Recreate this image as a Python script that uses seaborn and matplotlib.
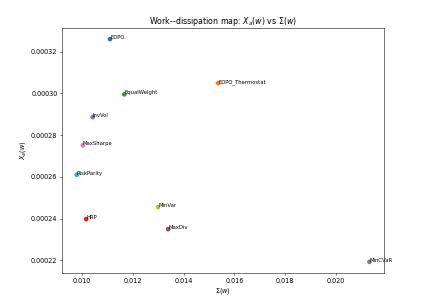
import pandas as pd
import matplotlib
matplotlib.use("Agg")
import matplotlib.pyplot as plt
import seaborn as sns

strategies = ["EDPO", "EDPO_Thermostat", "EqualWeight", "HRP", "InvVol",
              "MaxDiv", "MaxSharpe", "MinCVaR", "MinVar", "RiskParity"]
sigma = [0.01111, 0.01536, 0.01167, 0.01017, 0.01043,
         0.01340, 0.01004, 0.02131, 0.01300, 0.00980]
x_a = [0.0003261, 0.0003050, 0.0002996, 0.0002397, 0.0002887,
       0.0002349, 0.0002751, 0.0002192, 0.0002455, 0.0002610]

DPI = 47.2


def work_dissipation_map():
    df = pd.DataFrame({"strategy": strategies, "sigma": sigma, "x_a": x_a})

    fig = plt.figure(figsize=(434 / DPI, 304 / DPI), dpi=DPI)
    ax = fig.add_axes([0.143, 0.102, 0.742, 0.806])
    sns.scatterplot(data=df, x="sigma", y="x_a", hue="strategy",
                    hue_order=strategies, palette="tab10",
                    s=50, edgecolor="none", legend=False, ax=ax)

    for _, row in df.iterrows():
        ax.text(row["sigma"], row["x_a"], row["strategy"], fontsize=8)

    ax.set_title(r"Work--dissipation map: $X_a(w)$ vs $\Sigma(w)$")
    ax.set_xlabel(r"$\Sigma(w)$")
    ax.set_ylabel(r"$X_a(w)$")

    fig.savefig("out.png", dpi=DPI)


if __name__ == "__main__":
    work_dissipation_map()
